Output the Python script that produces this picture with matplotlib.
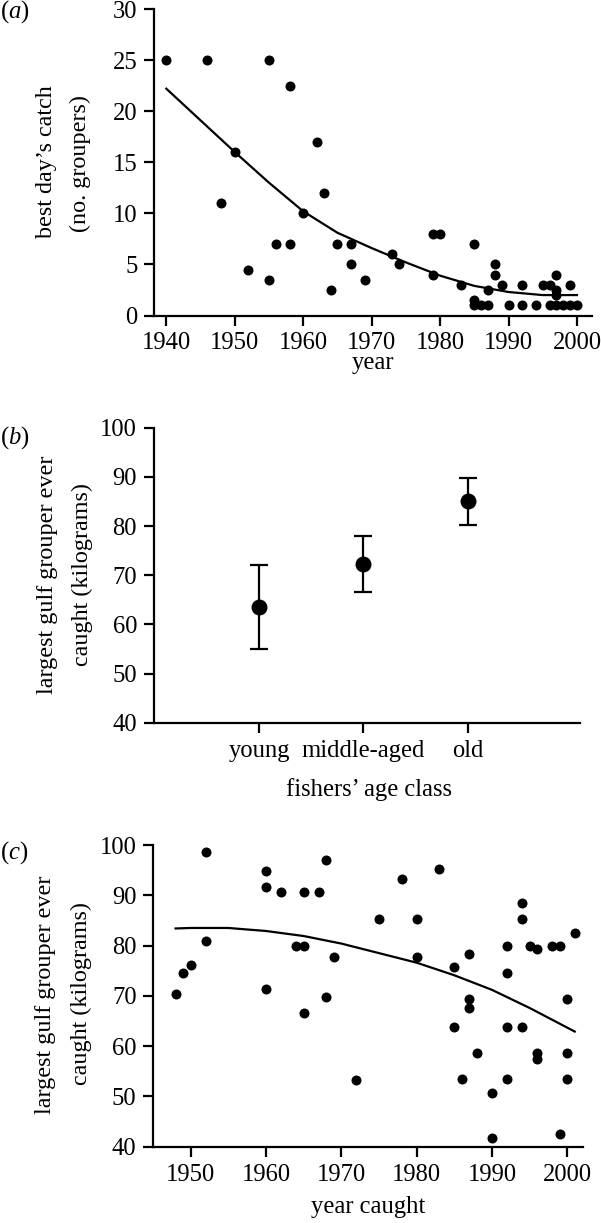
import matplotlib
matplotlib.use("Agg")
import matplotlib.pyplot as plt

plt.rcParams['font.family'] = ['Liberation Serif', 'DejaVu Serif']
plt.rcParams['mathtext.fontset'] = 'custom'
plt.rcParams['mathtext.rm'] = 'Liberation Serif'
plt.rcParams['mathtext.it'] = 'Liberation Serif:italic'

# ---------------- data ----------------
# (a) best day's catch vs year
a_years = [1940, 1946, 1955, 1958, 1950, 1962, 1963, 1948, 1960, 1956, 1958, 1965,
           1967, 1967, 1952, 1955, 1964, 1969, 1973, 1974, 1979, 1980, 1979, 1983,
           1985, 1985, 1985, 1986, 1987, 1987, 1988, 1988, 1989, 1990, 1992, 1992,
           1994, 1995, 1996, 1997, 1997, 1997, 1996, 1997, 1998, 1999, 2000, 1999]
a_catch = [25, 25, 25, 22.5, 16, 17, 12, 11, 10, 7, 7, 7,
           7, 5, 4.5, 3.5, 2.5, 3.5, 6, 5, 8, 8, 4, 3,
           7, 1.5, 1, 1, 1, 2.5, 5, 4, 3, 1, 3, 1,
           1, 3, 3, 4, 2.5, 2, 1, 1, 1, 1, 1, 3]
a_fit_years = [1940, 1945, 1950, 1955, 1960, 1965, 1970, 1975, 1980, 1985, 1990, 1995, 2000]
a_fit_catch = [22.2, 19.1, 16.0, 13.0, 10.2, 8.1, 6.6, 5.2, 3.9, 2.9, 2.3, 2.0, 2.0]
a_xticks = [1940, 1950, 1960, 1970, 1980, 1990, 2000]
a_yticks = [0, 5, 10, 15, 20, 25, 30]

# (b) largest grouper by fishers' age class
b_classes = ['young', 'middle-aged', 'old']
b_mean = [63.6, 72.3, 85.1]
b_upper = [72.1, 78.0, 89.8]
b_lower = [55.0, 66.6, 80.2]
b_yticks = [40, 50, 60, 70, 80, 90, 100]

# (c) largest grouper vs year caught
c_years = [1948, 1949, 1950, 1952, 1952, 1960, 1960, 1960, 1962, 1964, 1965, 1965,
           1965, 1967, 1968, 1968, 1969, 1972, 1975, 1978, 1980, 1980, 1983, 1985,
           1985, 1987, 1987, 1987, 1986, 1988, 1990, 1990, 1992, 1992, 1992, 1992,
           1994, 1994, 1994, 1995, 1996, 1996, 1996, 1998, 1999, 1999, 2000, 2000,
           2000, 2001]
c_weight = [70.4, 74.6, 76.2, 98.6, 81.0, 94.9, 91.7, 71.4, 90.6, 79.9, 80.0, 90.6,
            66.6, 90.6, 97.0, 69.8, 77.8, 53.3, 85.3, 93.2, 85.3, 77.8, 95.3, 75.7,
            63.9, 78.3, 69.4, 67.6, 53.4, 58.7, 50.7, 41.7, 80.0, 74.6, 63.9, 53.4,
            88.5, 85.3, 63.9, 80.0, 79.4, 58.7, 57.4, 80.0, 80.0, 42.6, 69.3, 58.7,
            53.4, 82.5]
c_fit_years = [1948, 1950, 1955, 1960, 1965, 1970, 1975, 1980, 1985, 1990, 1995, 2001]
c_fit_weight = [83.4, 83.5, 83.5, 82.9, 81.9, 80.4, 78.5, 76.6, 74.1, 71.2, 67.6, 62.9]
c_xticks = [1950, 1960, 1970, 1980, 1990, 2000]
c_yticks = [40, 50, 60, 70, 80, 90, 100]

# ---------------- figure ----------------
W, H = 601, 1223
fig = plt.figure(figsize=(W / 100, H / 100), dpi=100)

def ax_at(l, r, t, b):
    return fig.add_axes([l / W, 1 - b / H, (r - l) / W, (b - t) / H])

def fx(px):
    return px / W

def fy(py):
    return 1 - py / H

TICK_FS = 17.7
XLAB_FS = 17.7
YLAB_FS = 17.4

def style(ax, xpad=5.3):
    for s in ['top', 'right']:
        ax.spines[s].set_visible(False)
    for s in ['left', 'bottom']:
        ax.spines[s].set_linewidth(1.6)
    ax.tick_params(direction='out', length=7.5, width=1.6, labelsize=TICK_FS)
    ax.tick_params(axis='y', pad=4.3)
    ax.tick_params(axis='x', pad=xpad)

def ylab(x, y, s):
    fig.text(fx(x), fy(y), s, rotation=90, ha='center', va='center', fontsize=YLAB_FS)

# panel a
axa = ax_at(154, 592, 9, 315.5)
style(axa, xpad=4.3)
axa.plot(a_years, a_catch, 'o', color='black', ms=7.2, mew=0)
axa.plot(a_fit_years, a_fit_catch, '-', color='black', lw=1.6)
axa.set_xlim(1938.2, 2002.2)
axa.set_ylim(0, 30)
axa.set_xticks(a_xticks)
axa.set_yticks(a_yticks)
fig.text(fx(373), fy(369), 'year', fontsize=XLAB_FS, ha='center', va='baseline')
ylab(47, 161.5, 'best day\u2019s catch')
ylab(80, 164, '(no. groupers)')

# panel b
axb = ax_at(153.5, 580, 427.7, 722.7)
style(axb)
pos = [1, 2, 3]
yerr = [[m - lo for m, lo in zip(b_mean, b_lower)], [u - m for m, u in zip(b_mean, b_upper)]]
axb.errorbar(pos, b_mean, yerr=yerr, fmt='none', ecolor='black',
             elinewidth=1.6, capsize=6.2, capthick=1.6)
axb.plot(pos, b_mean, 'o', color='black', ms=11.5, mew=0)
axb.set_xlim(-0.015, 4.08)
axb.set_ylim(40, 100)
axb.set_xticks(pos)
axb.set_xticklabels(b_classes)
axb.set_yticks(b_yticks)
fig.text(fx(369), fy(796), 'fishers\u2019 age class', fontsize=XLAB_FS, ha='center', va='baseline')
ylab(48, 575, 'largest gulf grouper ever')
ylab(82, 575, 'caught (kilograms)')

# panel c
axc = ax_at(153, 583, 845, 1146.7)
style(axc)
axc.plot(c_years, c_weight, 'o', color='black', ms=7.2, mew=0)
axc.plot(c_fit_years, c_fit_weight, '-', color='black', lw=1.6)
axc.set_xlim(1945.0, 2002.1)
axc.set_ylim(40, 100)
axc.set_xticks(c_xticks)
axc.set_yticks(c_yticks)
fig.text(fx(368), fy(1213), 'year caught', fontsize=XLAB_FS, ha='center', va='baseline')
ylab(46, 995, 'largest gulf grouper ever')
ylab(81, 994, 'caught (kilograms)')

# panel letters
for lab, y in [('a', 12), ('b', 438), ('c', 853)]:
    fig.text(fx(0), fy(y), '(' + r'$\mathit{' + lab + '}$' + ')', fontsize=17.7,
             ha='left', va='center')

fig.savefig('out.png', dpi=100)
